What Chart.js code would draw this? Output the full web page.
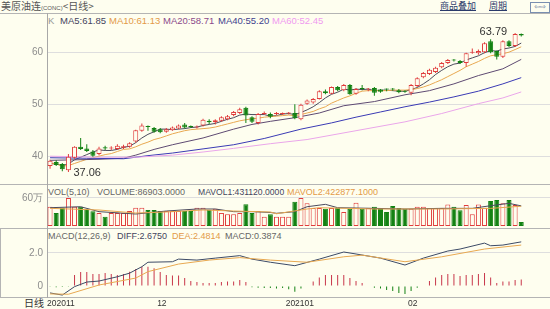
<!DOCTYPE html>
<html>
<head>
<meta charset="utf-8">
<title>美原油连 日线</title>
<script src="https://cdn.jsdelivr.net/npm/chart.js@4.4.1/dist/chart.umd.min.js"></script>
<style>
  html, body { margin: 0; padding: 0; }
  body { width: 550px; height: 309px; overflow: hidden; position: relative; background: #fefeef;
         font-family: "Liberation Sans", Arial, sans-serif; }
  canvas { position: absolute; left: 0; }
  .t { position: absolute; white-space: nowrap; font-size: 9.5px; line-height: 12px; }
  .s { font-size: 9px; }
  .cjk { font-family: "Noto Sans CJK SC", sans-serif; }
  .ln { position: absolute; left: 0; width: 550px; height: 1px; background: #b4b4b4; }
</style>
</head>
<body>
<div class="t cjk" style="left:1px;top:0;font-size:10px;color:#555">美原油连<span style="font-family:'Liberation Sans';font-size:6px">(CONC)</span>&lt;日线&gt;</div>
<div class="t cjk" style="left:440px;top:0;font-size:9px;color:#2a3a6a;text-decoration:underline">商品叠加</div>
<div class="t cjk" style="left:489px;top:0;font-size:9px;color:#2a3a6a;text-decoration:underline">周期</div>
<div class="t" style="left:530px;top:2px;width:18px;height:9px;border:1px solid #7a8fb0;font-size:7px;line-height:9px;text-align:center;color:#4a5f90;font-family:'DejaVu Sans'">⇦⇨</div>
<div class="ln" style="top:13px"></div>

<div class="t" style="left:48px;top:15px;color:#999">K</div>
<div class="t" style="left:60px;top:15px;color:#44445e">MA5:61.85</div>
<div class="t" style="left:109px;top:15px;color:#e39a48">MA10:61.13</div>
<div class="t" style="left:163px;top:15px;color:#8b4a8b">MA20:58.71</div>
<div class="t" style="left:218px;top:15px;color:#3e3e8e">MA40:55.20</div>
<div class="t" style="left:272px;top:15px;color:#f09af0">MA60:52.45</div>

<div class="ln" style="top:184px"></div>
<div class="t s" style="left:48px;top:186px;color:#666">VOL(5,10)</div>
<div class="t s" style="left:97px;top:186px;color:#666">VOLUME:86903.0000</div>
<div class="t" style="left:198px;top:186px;color:#44445e;font-size:8.6px">MAVOL1:431120.0000</div>
<div class="t s" style="left:287px;top:186px;color:#e39a48">MAVOL2:422877.1000</div>

<div class="ln" style="top:228px"></div>
<div style="position:absolute;left:0;top:228px;width:1px;height:69px;background:#b4b4b4"></div>
<div class="t s" style="left:48px;top:230px;color:#666">MACD(12,26,9)</div>
<div class="t s" style="left:117px;top:230px;color:#44445e">DIFF:2.6750</div>
<div class="t s" style="left:172px;top:230px;color:#e39a48">DEA:2.4814</div>
<div class="t s" style="left:225px;top:230px;color:#666">MACD:0.3874</div>

<div class="ln" style="top:297px"></div>
<div class="t cjk" style="left:24px;top:297px;font-size:10px;color:#333">日线</div>

<canvas id="cK" width="550" height="171" style="top:13px"></canvas>
<canvas id="cV" width="550" height="44" style="top:184px"></canvas>
<canvas id="cM" width="550" height="81" style="top:228px"></canvas>

<script>
// daily candles, 美原油连
const opens = [38.2,39.0,38.6,37.4,39.8,41.9,41.6,41.0,40.5,41.8, 41.6,41.5,41.7,41.9,42.9,45.0,45.9,45.5,45.3,44.8,
  45.1,45.4,46.2,45.8,45.6,46.0,46.9,46.6,46.9,47.2, 48.0,48.4,49.4,47.6,46.5,48.2,48.2,48.2,48.2,48.3,
  48.4,47.2,50.2,50.4,51.1,52.6,52.1,53.4,52.8,53.8, 52.1,53.1,52.9,53.2,52.9,53.0,53.0,52.8,52.6,52.3,
  53.6,55.3,55.9,56.3,57.2,58.0,58.6,58.4,58.0,60.0, 59.9,60.1,62.2,60.3,59.2,62.2,61.3,63.6];
const closes = [39.2,38.4,37.6,40.0,41.9,41.5,41.1,40.2,41.6,41.6, 41.7,42.1,42.0,42.6,45.1,46.0,45.7,44.8,44.7,45.3,
  45.6,46.0,45.6,45.7,45.8,47.1,46.6,47.0,47.6,47.8, 48.6,49.1,47.9,46.7,48.2,48.4,47.7,48.4,48.3,48.5,
  47.4,50.0,50.8,51.1,52.6,52.2,53.4,52.8,53.8,52.0, 53.0,53.0,53.1,52.3,52.5,52.9,52.9,52.4,52.5,53.8,
  55.1,56.1,56.7,57.1,58.0,58.6,58.5,58.0,59.9,60.1, 60.3,61.8,60.1,59.2,62.2,61.3,63.6,63.3];
const highs = [39.4,39.3,38.8,40.5,42.0,43.6,42.4,41.3,41.9,42.1, 42.0,42.4,42.3,42.8,45.2,46.4,46.0,45.7,45.5,45.5,
  45.8,46.2,46.5,46.0,46.0,47.3,47.2,47.2,47.8,48.0, 48.8,49.4,49.6,47.8,48.4,48.7,48.5,48.6,48.5,48.6,
  50.1,50.2,51.0,51.3,52.8,52.9,53.5,53.6,54.0,54.0, 53.2,53.8,53.2,53.4,53.0,53.1,53.2,53.0,52.8,54.0,
  55.3,56.3,56.9,57.3,58.2,58.8,58.8,58.6,60.0,60.8, 60.6,62.0,62.6,60.4,62.4,62.4,63.79,63.7];
const lows = [37.7,38.2,37.2,37.06,39.6,41.3,40.9,40.0,40.3,41.3, 41.3,41.3,41.5,41.7,42.7,44.8,45.0,44.6,44.5,44.6,
  45.0,45.3,45.4,45.5,45.4,45.8,46.3,46.2,46.7,47.0, 47.8,48.2,46.5,46.5,46.2,48.0,47.4,48.0,48.0,48.1,
  47.2,47.0,50.0,50.2,51.0,52.0,52.0,52.6,52.6,51.9, 51.9,52.8,52.6,51.7,52.3,52.6,52.7,52.2,52.3,51.8,
  53.4,55.1,55.7,56.1,57.0,57.8,58.3,57.8,57.3,59.8, 59.6,59.9,59.9,58.7,59.0,61.1,61.1,63.1];

// moving averages
const ma5 = [38.7,38.6,38.3,38.6,39.4,39.9,40.4,40.9,41.3,41.2, 41.2,41.4,41.8,42.0,42.7,43.6,44.3,44.8,45.3,45.3,
  45.2,45.3,45.4,45.6,45.7,46.0,46.2,46.4,46.8,47.2, 47.5,48.0,48.2,48.1,48.1,48.1,47.8,47.9,48.2,48.3,
  48.1,48.5,49.0,49.6,50.4,51.3,52.0,52.4,53.0,52.8, 53.0,52.9,53.0,52.7,52.8,52.8,52.7,52.6,52.6,52.9,
  53.3,54.0,54.8,55.8,56.6,57.3,57.8,58.0,58.6,59.0, 59.4,60.0,60.4,60.3,60.7,60.9,61.2,61.85];
const ma10 = [38.8,38.6,38.2,38.3,38.7,39.1,39.5,39.8,40.1,40.4, 40.6,41.0,41.4,41.5,41.9,42.4,42.8,43.3,43.6,44.0,
  44.4,44.7,45.0,45.2,45.3,45.4,45.5,45.7,46.0,46.3, 46.6,46.9,47.1,47.3,47.4,47.6,47.7,47.8,47.9,48.0,
  47.9,48.1,48.4,48.7,49.2,49.6,50.3,50.8,51.3,51.7, 52.2,52.6,52.7,52.7,52.7,52.7,52.8,52.8,52.8,52.9,
  53.1,53.4,53.8,54.3,54.8,55.4,56.0,56.6,57.3,57.8, 58.3,58.9,59.4,59.6,59.8,60.1,60.6,61.13];
const ma20 = [[0,39.3],[4,39.4],[8,39.5],[12,39.7],[14,40.3],[17,41.4],[20,42.3],[25,43.6],[30,45.3],[33,46.2],
  [36,46.8],[40,47.5],[44,48.4],[48,49.8],[53,50.6],[58,51.9],[62,52.7],[66,54.0],[70,55.6],[74,56.9],[77,58.71]];
const ma40 = [[0,39.8],[6,39.7],[12,39.6],[16,40.2],[20,40.7],[25,41.5],[30,42.3],[35,43.5],[41,45.3],[46,46.5],
  [50,47.6],[54,48.6],[58,49.6],[62,50.5],[66,51.5],[70,52.6],[74,54.0],[77,55.2]];
const ma60 = [[0,40.1],[8,39.9],[14,39.9],[20,40.3],[25,40.9],[30,41.6],[36,42.5],[42,43.3],[50,45.0],[58,46.7],
  [64,48.3],[70,50.2],[74,51.3],[77,52.45]];

// volume in thousands
const volumes = [413,280,392,600,413,413,364,314,280,200, 280,280,280,321,392,392,342,342,321,321,
  321,321,321,321,392,392,342,370,280,250, 250,280,464,280,321,200,250,200,200,200,
  520,600,490,385,385,370,385,392,300,370, 500,370,385,413,385,300,430,385,370,370,
  413,413,385,385,385,460,413,340,450,250, 460,392,535,557,490,557,450,86.9];
const mavol1 = [[0,392],[5,413],[8,307],[14,257],[19,321],[24,364],[27,364],[30,307],[33,307],[36,290],[37,272],
  [40,307],[42,413],[45,464],[47,392],[53,378],[58,364],[64,378],[69,378],[72,435],[75,485],[77,431]];
const mavol2 = [[0,378],[8,343],[14,278],[19,300],[25,343],[30,321],[36,300],[37,262],[42,364],[44,392],
  [53,364],[64,364],[72,378],[77,423]];

// MACD(12,26,9)
const diff = [[0,-0.42],[2,-0.55],[4,-0.04],[6,0.24],[8,0.3],[11,0.56],[13,0.78],[15,1.17],[16,1.44],[20,1.47],
  [21,1.63],[24,1.57],[27,1.69],[31,1.84],[33,1.63],[36,1.44],[40,1.23],[44,1.63],[48,2.06],[50,1.94],
  [54,1.69],[58,1.27],[61,1.69],[65,2.12],[67,2.24],[71,2.6],[72,2.44],[74,2.48],[77,2.675]];
const dea = [[0,-0.48],[3,-0.5],[8,0.06],[14,0.48],[16,0.87],[21,1.33],[26,1.57],[31,1.72],[36,1.57],[42,1.44],
  [48,1.77],[51,1.87],[58,1.47],[64,1.77],[71,2.24],[77,2.48]];
const macdHist = [-0.05,-0.08,-0.06,-0.04,0.67,0.85,0.85,0.73,0.73,0.79, 0.73,0.67,0.73,0.87,1.03,1.17,1.17,1.07,0.85,0.67,
  0.63,0.63,0.48,0.30,0.24,0.18,0.18,0.18,0.24,0.27, 0.27,0.36,0.24,-0.08,-0.10,-0.12,-0.12,-0.15,-0.12,-0.20,
  -0.35,-0.15,-0.03,0.27,0.52,0.67,0.67,0.67,0.67,0.48, 0.30,0.18,0.03,-0.10,-0.15,-0.25,-0.30,-0.42,-0.48,-0.30,
  -0.10,0.03,0.30,0.52,0.67,0.73,0.73,0.60,0.67,0.67, 0.73,0.79,0.52,0.18,0.27,0.27,0.36,0.39];

// month ticks on the bottom axis
const tickIdx = [0, 18, 39, 59];
const tickLabels = ['202011', '12', '202101', '02'];
const priceTicks = [40, 50, 60];
const volTicks = [600];
const macdTicks = [0, 2];

const BG = '#fefeef';
const RED = '#e03c3c';
const GREEN = '#138213';
const FONT = '"Liberation Sans", Arial, sans-serif';

const idx = opens.map((_, i) => i);
const up = idx.map(i => closes[i] >= opens[i]);

function xAxis(show) {
  return {
    type: 'linear', min: -0.5, max: 81.7, offset: false, display: show,
    grid: { display: false, drawTicks: false }, border: { display: false },
    afterBuildTicks: s => { s.ticks = tickIdx.map(i => ({ value: i - 0.5 })); },
    afterFit: s => { s.height = show ? 12 : 0; s.paddingLeft = 0; s.paddingRight = 0; },
    ticks: {
      autoSkip: false, maxRotation: 0, minRotation: 0, align: 'start', padding: 2, color: '#333',
      font: { size: 8.5, family: FONT },
      callback: v => { const k = tickIdx.indexOf(v + 0.5); return k >= 0 ? tickLabels[k] : ''; }
    }
  };
}

function yAxis(min, max, ticks, fmt) {
  return {
    position: 'left', min: min, max: max, offset: false,
    // fixed axis column, no extra room for the end labels
    afterFit: s => { s.width = 47; s.paddingTop = 0; s.paddingBottom = 0; },
    afterBuildTicks: s => { s.ticks = ticks.map(v => ({ value: v })); },
    ticks: { color: '#8c8c8c', padding: 4, font: { size: 10, family: FONT }, callback: fmt },
    grid: { color: '#dedede', drawTicks: false },
    border: { color: '#a8a8a8' }
  };
}

function line(points, color) {
  return {
    type: 'line', data: points, borderColor: color, borderWidth: 1,
    pointRadius: 0, tension: 0, order: 3
  };
}
const seq = arr => arr.map((y, i) => ({ x: i, y: y }));
const pts = arr => arr.map(p => ({ x: p[0], y: p[1] }));

const barBase = { type: 'bar', grouped: false, barPercentage: 1, categoryPercentage: 1, inflateAmount: 0 };

const common = {
  responsive: false, animation: false, devicePixelRatio: 1, events: [],
  layout: { padding: 0 },
  plugins: { legend: { display: false }, tooltip: { enabled: false } }
};

const hiLoLabels = {
  id: 'hiLoLabels',
  afterDatasetsDraw(chart) {
    const { ctx, scales: { x, y } } = chart;
    const hi = highs.indexOf(Math.max(...highs));
    const lo = lows.indexOf(Math.min(...lows));
    ctx.save();
    ctx.font = '11px ' + FONT;
    ctx.fillStyle = '#333';
    ctx.textBaseline = 'middle';
    ctx.textAlign = 'right';
    ctx.fillText(highs[hi].toFixed(2), x.getPixelForValue(hi) - 8, y.getPixelForValue(highs[hi]) - 1);
    ctx.textAlign = 'left';
    ctx.fillText(lows[lo].toFixed(2), x.getPixelForValue(lo) + 5, y.getPixelForValue(lows[lo]) + 1);
    ctx.restore();
  }
};

new Chart(document.getElementById('cK'), {
  type: 'bar',
  data: {
    datasets: [
      Object.assign({}, barBase, {
        data: idx.map(i => ({ x: i, y: [lows[i], highs[i]] })),
        backgroundColor: idx.map(i => up[i] ? RED : GREEN),
        maxBarThickness: 1, order: 2
      }),
      Object.assign({}, barBase, {
        data: idx.map(i => ({ x: i, y: [opens[i], closes[i]] })),
        backgroundColor: idx.map(i => up[i] ? BG : GREEN),
        borderColor: idx.map(i => up[i] ? RED : GREEN),
        borderWidth: 1, borderSkipped: false, minBarLength: 1,
        maxBarThickness: 5, order: 1
      }),
      line(pts(ma60), '#eaa6ea'),
      line(pts(ma40), '#3a3ab4'),
      line(pts(ma20), '#5e4a72'),
      line(seq(ma10), '#e8a850'),
      line(seq(ma5), '#4a4a5c')
    ]
  },
  options: Object.assign({}, common, {
    scales: { x: xAxis(false), y: yAxis(34.75, 67.63, priceTicks, v => String(v)) }
  }),
  plugins: [hiLoLabels]
});

new Chart(document.getElementById('cV'), {
  type: 'bar',
  data: {
    datasets: [
      Object.assign({}, barBase, {
        data: idx.map(i => ({ x: i, y: volumes[i] })),
        backgroundColor: idx.map(i => up[i] ? BG : GREEN),
        borderColor: idx.map(i => up[i] ? RED : GREEN),
        borderWidth: 1, borderSkipped: false,
        maxBarThickness: 5, order: 2
      }),
      Object.assign(line(pts(mavol2), '#e8a850'), { order: 1 }),
      Object.assign(line(pts(mavol1), '#4a4a5c'), { order: 1 })
    ]
  },
  options: Object.assign({}, common, {
    scales: { x: xAxis(false), y: yAxis(-43, 900, volTicks, v => (v / 10) + '万') }
  })
});

new Chart(document.getElementById('cM'), {
  type: 'bar',
  data: {
    datasets: [
      Object.assign({}, barBase, {
        data: idx.map(i => ({ x: i, y: macdHist[i] })),
        backgroundColor: idx.map(i => macdHist[i] >= 0 ? '#c8364a' : GREEN),
        maxBarThickness: 1, order: 2
      }),
      Object.assign(line(pts(dea), '#e8a850'), { order: 1 }),
      Object.assign(line(pts(diff), '#3c4a66'), { order: 1 })
    ]
  },
  options: Object.assign({}, common, {
    scales: {
      x: xAxis(true),
      y: Object.assign(yAxis(-0.667, 3.515, macdTicks, v => v === 0 ? '0' : v.toFixed(1)), {
        grid: { color: c => c.tick && c.tick.value === 2 ? '#dedede' : 'rgba(0,0,0,0)', drawTicks: false }
      })
    }
  })
});
</script>
</body>
</html>
